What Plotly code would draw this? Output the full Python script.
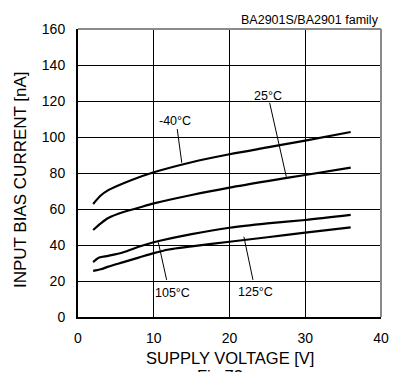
import plotly.graph_objects as go

# Supply voltage [V] sample points and input bias current [nA] for each temperature
v_m40 = [2, 3, 4, 5, 7, 10, 15, 20, 25, 30, 36]
i_m40 = [62.8, 67.5, 70.5, 72.5, 76.0, 80.4, 86.0, 90.4, 94.2, 98.0, 102.8]

v_25 = [2, 3, 4, 6, 8, 10, 15, 20, 25, 30, 36]
i_25 = [48.3, 52.0, 55.0, 58.3, 60.7, 63.1, 67.8, 71.9, 75.5, 78.9, 83.0]

v_105 = [2, 2.8, 4, 6, 8, 10, 15, 20, 25, 30, 36]
i_105 = [30.5, 33.0, 34.0, 36.0, 39.0, 41.5, 46.0, 49.6, 52.0, 53.9, 56.7]

v_125 = [2, 3, 4, 6, 8, 10, 12, 15, 20, 25, 30, 36]
i_125 = [25.6, 26.5, 28.0, 30.5, 33.0, 35.5, 37.5, 39.2, 41.8, 44.3, 46.9, 49.8]

# Curve labels: text, label position, leader line (x pair, y pair)
labels = ["-40°C", "25°C", "105°C", "125°C"]
label_x = [12.8, 25.1, 12.5, 23.4]
label_y = [109.0, 122.8, 13.2, 14.0]
leader_x = [[13.1, 13.7], [25.3, 27.5], [10.6, 11.7], [21.9, 23.1]]
leader_y = [[104.4, 85.7], [119.0, 77.9], [41.5, 20.6], [44.6, 20.6]]

x_ticks = [0, 10, 20, 30, 40]
y_ticks = [0, 20, 40, 60, 80, 100, 120, 140, 160]

FONT = "Liberation Sans, Arial, sans-serif"

fig = go.Figure()

for vx, iy in [(v_m40, i_m40), (v_25, i_25), (v_105, i_105), (v_125, i_125)]:
    fig.add_trace(go.Scatter(x=vx, y=iy, mode="lines",
                             line=dict(color="black", width=2.2, shape="spline", smoothing=0.8),
                             hoverinfo="skip", showlegend=False))

for lx, ly in zip(leader_x, leader_y):
    fig.add_trace(go.Scatter(x=lx, y=ly, mode="lines",
                             line=dict(color="black", width=1),
                             hoverinfo="skip", showlegend=False))

for txt, lx, ly in zip(labels, label_x, label_y):
    fig.add_annotation(x=lx, y=ly, text=txt, showarrow=False,
                       font=dict(family=FONT, size=12.5, color="black"))

# Frame: black left/bottom, grey top/right
fig.add_shape(type="line", xref="paper", yref="paper", x0=0, x1=1, y0=1, y1=1,
              line=dict(color="#8a8a8a", width=2))
fig.add_shape(type="line", xref="paper", yref="paper", x0=1, x1=1, y0=0, y1=1,
              line=dict(color="#8a8a8a", width=2))

fig.add_annotation(xref="paper", yref="paper", x=1.0, y=1.031, text="BA2901S/BA2901 family",
                   showarrow=False, xanchor="right", yanchor="middle",
                   font=dict(family=FONT, size=12.5, color="black"))
fig.add_annotation(xref="paper", yref="paper", x=-0.19, y=0.477, text="INPUT BIAS CURRENT [nA]",
                   showarrow=False, textangle=-90, xanchor="center", yanchor="middle",
                   font=dict(family=FONT, size=17, color="black"))
fig.add_annotation(xref="paper", yref="paper", x=0.502, y=-0.142, text="SUPPLY VOLTAGE [V]",
                   showarrow=False, xanchor="center", yanchor="middle",
                   font=dict(family=FONT, size=16.5, color="black"))
fig.add_annotation(xref="paper", yref="paper", x=0.47, y=-0.205, text="Fig.73",
                   showarrow=False, xanchor="center", yanchor="middle",
                   font=dict(family=FONT, size=16.5, color="black"))

fig.update_xaxes(range=[0, 40], tickvals=x_ticks, showgrid=True, gridcolor="black", gridwidth=1,
                 zeroline=False, showline=True, linecolor="black", linewidth=2,
                 ticks="outside", ticklen=7, tickcolor="rgba(0,0,0,0)",
                 tickfont=dict(family=FONT, size=14, color="black"), fixedrange=True)
fig.update_yaxes(range=[0, 160], tickvals=y_ticks, showgrid=True, gridcolor="black", gridwidth=1,
                 zeroline=False, showline=True, linecolor="black", linewidth=2,
                 ticks="outside", ticklen=8, tickcolor="rgba(0,0,0,0)",
                 tickfont=dict(family=FONT, size=14, color="black"), fixedrange=True)

fig.update_layout(width=400, height=372, margin=dict(l=78, r=11, t=29, b=55),
                  paper_bgcolor="white", plot_bgcolor="white", showlegend=False)

fig.write_html("out.html", config={"displayModeBar": False})
